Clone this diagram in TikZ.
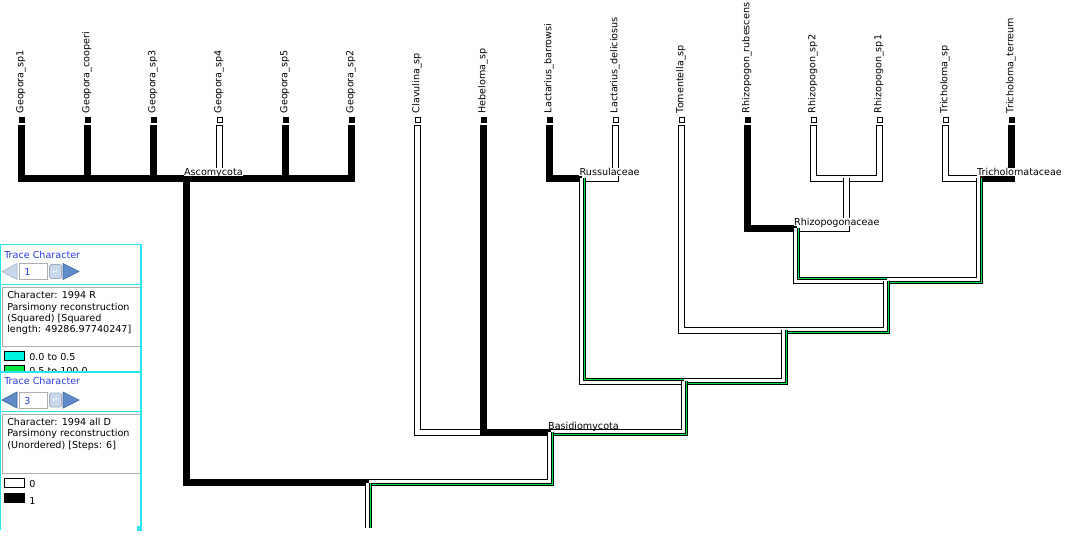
\documentclass[tikz,border=0pt]{standalone}
\usepackage{fontspec}
\setmainfont{DejaVu Sans}
\usepackage{tikz}
\usetikzlibrary{positioning}
\definecolor{framecyan}{RGB}{40,230,235}
\definecolor{swatchcyan}{RGB}{0,245,225}
\definecolor{tracegreen}{RGB}{0,230,70}
\definecolor{titleblue}{RGB}{40,60,225}
\definecolor{arrowblue}{RGB}{95,140,200}
\definecolor{arrowedge}{RGB}{60,100,160}
\definecolor{arrowpale}{RGB}{200,215,235}
\definecolor{boxgray}{RGB}{175,175,175}
\newcommand{\tfont}{\fontsize{7.2}{8.6}\selectfont}
\tikzstyle{brblack} = [line width=5.25pt, black, line join=miter]
\tikzstyle{brstem} = [line width=3.75pt, white, line join=miter, preaction={draw=black, line width=5.25pt, shorten <=0pt}]
\tikzstyle{brwhite} = [brstem, shorten <=0.75pt]
\tikzstyle{brgreen} = [line width=0.75pt, black, double=tracegreen, double distance=0.75pt, line join=miter]
\tikzstyle{tipon} = [rectangle, fill=black, minimum size=4.5pt, inner sep=0pt, outer sep=1.5pt]
\tikzstyle{tipoff} = [rectangle, draw=black, fill=white, line width=0.75pt, minimum size=3.75pt, inner sep=0pt, outer sep=1.875pt]
\tikzstyle{taxon} = [rotate=90, anchor=base west, inner sep=0pt, font=\tfont]
\tikzstyle{clade} = [anchor=base west, inner sep=0.3pt, fill=white, text depth=0pt, font=\tfont]
\tikzstyle{trtitle} = [anchor=base west, inner sep=0pt, text=titleblue, font=\tfont]
\tikzstyle{info} = [anchor=base west, inner sep=0pt, font=\tfont]
\tikzstyle{numbox} = [rectangle, anchor=north west, draw=boxgray, fill=white, line width=0.75pt, minimum width=21pt, minimum height=12pt, inner sep=0pt]
\tikzstyle{enterbox} = [rectangle, rounded corners=1.2pt, draw=arrowpale!80!black, fill=arrowpale, line width=0.5pt, minimum width=9pt, minimum height=10.5pt, inner sep=0pt, text=white, font=\fontsize{6}{6}\selectfont]
\tikzstyle{swatch} = [rectangle, draw=black, line width=0.75pt, minimum width=15pt, minimum height=6.75pt, inner sep=0pt]

\begin{document}
\begin{tikzpicture}[x=0.75pt, y=-0.75pt]
\useasboundingbox (0,0) rectangle (1091,545);
\fill[white] (0,0) rectangle (1091,545);

% tips
\node[tipon] (geo1) at (21.5,120) {};
\node[tipon] (geoc) at (87.5,120) {};
\node[tipon] (geo3) at (153.5,120) {};
\node[tipoff] (geo4) at (219.5,120) {};
\node[tipon] (geo5) at (285.5,120) {};
\node[tipon] (geo2) at (351.5,120) {};
\node[tipoff] (clav) at (417.5,120) {};
\node[tipon] (hebe) at (483.5,120) {};
\node[tipon] (lbar) at (549.5,120) {};
\node[tipoff] (ldel) at (615.5,120) {};
\node[tipoff] (tome) at (681.5,120) {};
\node[tipon] (rrub) at (747.5,120) {};
\node[tipoff] (rsp2) at (813.5,120) {};
\node[tipoff] (rsp1) at (879.5,120) {};
\node[tipoff] (tsp) at (945.5,120) {};
\node[tipon] (tter) at (1011.5,120) {};

\node[taxon] (geo1lab) at (23.3,113.5) {Geopora\_sp1};
\node[taxon] (geoclab) at (89.3,113.5) {Geopora\_cooperi};
\node[taxon] (geo3lab) at (155.3,113.5) {Geopora\_sp3};
\node[taxon] (geo4lab) at (221.3,113.5) {Geopora\_sp4};
\node[taxon] (geo5lab) at (287.3,113.5) {Geopora\_sp5};
\node[taxon] (geo2lab) at (353.3,113.5) {Geopora\_sp2};
\node[taxon] (clavlab) at (419.3,113.5) {Clavulina\_sp};
\node[taxon] (hebelab) at (485.3,113.5) {Hebeloma\_sp};
\node[taxon] (lbarlab) at (551.3,113.5) {Lactarius\_barrowsi};
\node[taxon] (ldellab) at (617.3,113.5) {Lactarius\_deliciosus};
\node[taxon] (tomelab) at (683.3,113.5) {Tomentella\_sp};
\node[taxon] (rrublab) at (749.3,113.5) {Rhizopogon\_rubescens};
\node[taxon] (rsp2lab) at (815.3,113.5) {Rhizopogon\_sp2};
\node[taxon] (rsp1lab) at (881.3,113.5) {Rhizopogon\_sp1};
\node[taxon] (tsplab) at (947.3,113.5) {Tricholoma\_sp};
\node[taxon] (tterlab) at (1013.3,113.5) {Tricholoma\_terreum};

% internal nodes
\coordinate (asco) at (186.5,178.5);
\coordinate (root) at (368.5,482.5);
\coordinate (rootend) at (368.5,528);
\coordinate (basid) at (550.5,432);
\coordinate (nA) at (684,381);
\coordinate (russ) at (582,178.5);
\coordinate (nB) at (784.5,330);
\coordinate (nC) at (886.5,280.5);
\coordinate (rhizo) at (796.5,228.5);
\coordinate (nD) at (846.5,178.5);
\coordinate (trich) at (979.5,178.5);

% Ascomycota
\draw[brwhite] (geo4) |- (asco);
\draw[brblack] (geo1) |- (asco);
\draw[brblack] (geoc) |- (asco);
\draw[brblack] (geo3) |- (asco);
\draw[brblack] (geo5) |- (asco);
\draw[brblack] (geo2) |- (asco);
\draw[brblack] (asco) |- (root);

% Basidiomycota
\draw[brblack] (lbar) |- (russ);
\draw[brwhite] (ldel) |- (russ);
\draw[brblack] (rrub) |- (rhizo);
\draw[brwhite] (rsp2) |- (nD);
\draw[brwhite] (rsp1) |- (nD);
\draw[brstem] (nD) |- (rhizo);
\draw[brwhite] (tsp) |- (trich);
\draw[brblack] (tter) |- (trich);
\draw[brstem] (rhizo) |- (nC);
\draw[brgreen] ([xshift=1.5pt]rhizo) |- ([yshift=1.5pt]nC);
\draw[brstem] (trich) |- (nC);
\draw[brgreen] ([xshift=1.5pt]trich) |- ([yshift=-1.5pt]nC);
\draw[brwhite] (tome) |- (nB);
\draw[brstem] (nC) |- (nB);
\draw[brgreen] ([xshift=1.5pt]nC) |- ([yshift=-1.5pt]nB);
\draw[brstem] (russ) |- (nA);
\draw[brgreen] ([xshift=1.5pt]russ) |- ([yshift=1.5pt]nA);
\draw[brstem] (nB) |- (nA);
\draw[brgreen] ([xshift=1.5pt]nB) |- ([yshift=-1.5pt]nA);
\draw[brwhite] (clav) |- (basid);
\draw[brblack] (hebe) |- (basid);
\draw[brstem] (nA) |- (basid);
\draw[brgreen] ([xshift=1.5pt]nA) |- ([yshift=-1.5pt]basid);
\draw[brstem] (basid) |- (root);
\draw[brgreen] ([xshift=1.5pt]basid) |- ([yshift=-1.5pt]root);
\draw[brstem] (root) -- (rootend);
\draw[brgreen] ([xshift=1.5pt]root) -- ([xshift=1.5pt]rootend);

% clade names
\node[clade] (ascolab) at ([xshift=-2.25pt, yshift=2.25pt]asco) {Ascomycota};
\node[clade] (basidlab) at ([xshift=-2.25pt, yshift=2.25pt]basid) {Basidiomycota};
\node[clade] (russlab) at ([xshift=-2.25pt, yshift=2.25pt]russ) {Russulaceae};
\node[clade] (rhizolab) at ([xshift=-2.25pt, yshift=2.25pt]rhizo) {Rhizopogonaceae};
\node[clade] (trichlab) at ([xshift=-2.25pt, yshift=2.25pt]trich) {Tricholomataceae};

% trace panel 1
\node[trtitle] (tc1) at (4,258.3) {Trace Character};
\filldraw[fill=arrowpale, draw=arrowpale!85!black, line width=0.5pt] (2,271.5) -- (17,263.5) -- (17,279.5) -- cycle;
\node[numbox] (num1) at (19,263) {};
\node[trtitle] (dig1) at (24,275.5) {1};
\node[enterbox] (ent1) at (55.5,271.5) {↵};
\filldraw[fill=arrowblue, draw=arrowedge, line width=0.5pt] (63,263.5) -- (79,271.5) -- (63,279.5) -- cycle;
\draw[boxgray, line width=0.75pt] (2,287.5) rectangle (140,346.5);
\node[info] (inf1a) at (7,298) {Character: 1994 R};
\node[info] (inf1b) at (7,310.3) {Parsimony reconstruction};
\node[info] (inf1c) at (7,321.7) {(Squared) [Squared};
\node[info] (inf1d) at (7,332.9) {length: 49286.97740247]};
\node[swatch, fill=swatchcyan] (sw1a) at (14.5,356) {};
\node[info] (lg1a) at (29,360.5) {0.0 to 0.5};
\node[swatch, fill=tracegreen] (sw1b) at (14.5,370) {};
\node[info] (lg1b) at (29,374.5) {0.5 to 100.0};

% trace panel 2
\fill[white] (0,372) rectangle (141.5,545);
\node[trtitle] (tc2) at (4,384.5) {Trace Character};
\filldraw[fill=arrowblue, draw=arrowedge, line width=0.5pt] (2,400) -- (17,392) -- (17,408) -- cycle;
\node[numbox] (num2) at (19,391.5) {};
\node[trtitle] (dig2) at (24,404) {3};
\node[enterbox] (ent2) at (55.5,400) {↵};
\filldraw[fill=arrowblue, draw=arrowedge, line width=0.5pt] (63,392) -- (79,400) -- (63,408) -- cycle;
\draw[boxgray, line width=0.75pt] (2,414.3) rectangle (140,473.3);
\node[info] (inf2a) at (7,425) {Character: 1994 all D};
\node[info] (inf2b) at (7,436.7) {Parsimony reconstruction};
\node[info] (inf2c) at (7,448) {(Unordered) [Steps: 6]};
\node[swatch, fill=white] (sw2a) at (14.5,482.5) {};
\node[info] (lg2a) at (29,487.7) {0};
\node[swatch, fill=black] (sw2b) at (14.5,498) {};
\node[info] (lg2b) at (29,504) {1};

% panel frame
\draw[framecyan, line width=0.9pt] (0.6,530) -- (0.6,244.5) -- (141,244.5) -- (141,527);
\draw[framecyan, line width=0.9pt] (0.6,284.5) -- (141,284.5);
\draw[framecyan, line width=0.9pt] (0.6,372) -- (141,372);
\draw[framecyan, line width=0.9pt] (0.6,411.7) -- (141,411.7);
\fill[framecyan] (137,526) rectangle (141.5,530.5);
\end{tikzpicture}
\end{document}
